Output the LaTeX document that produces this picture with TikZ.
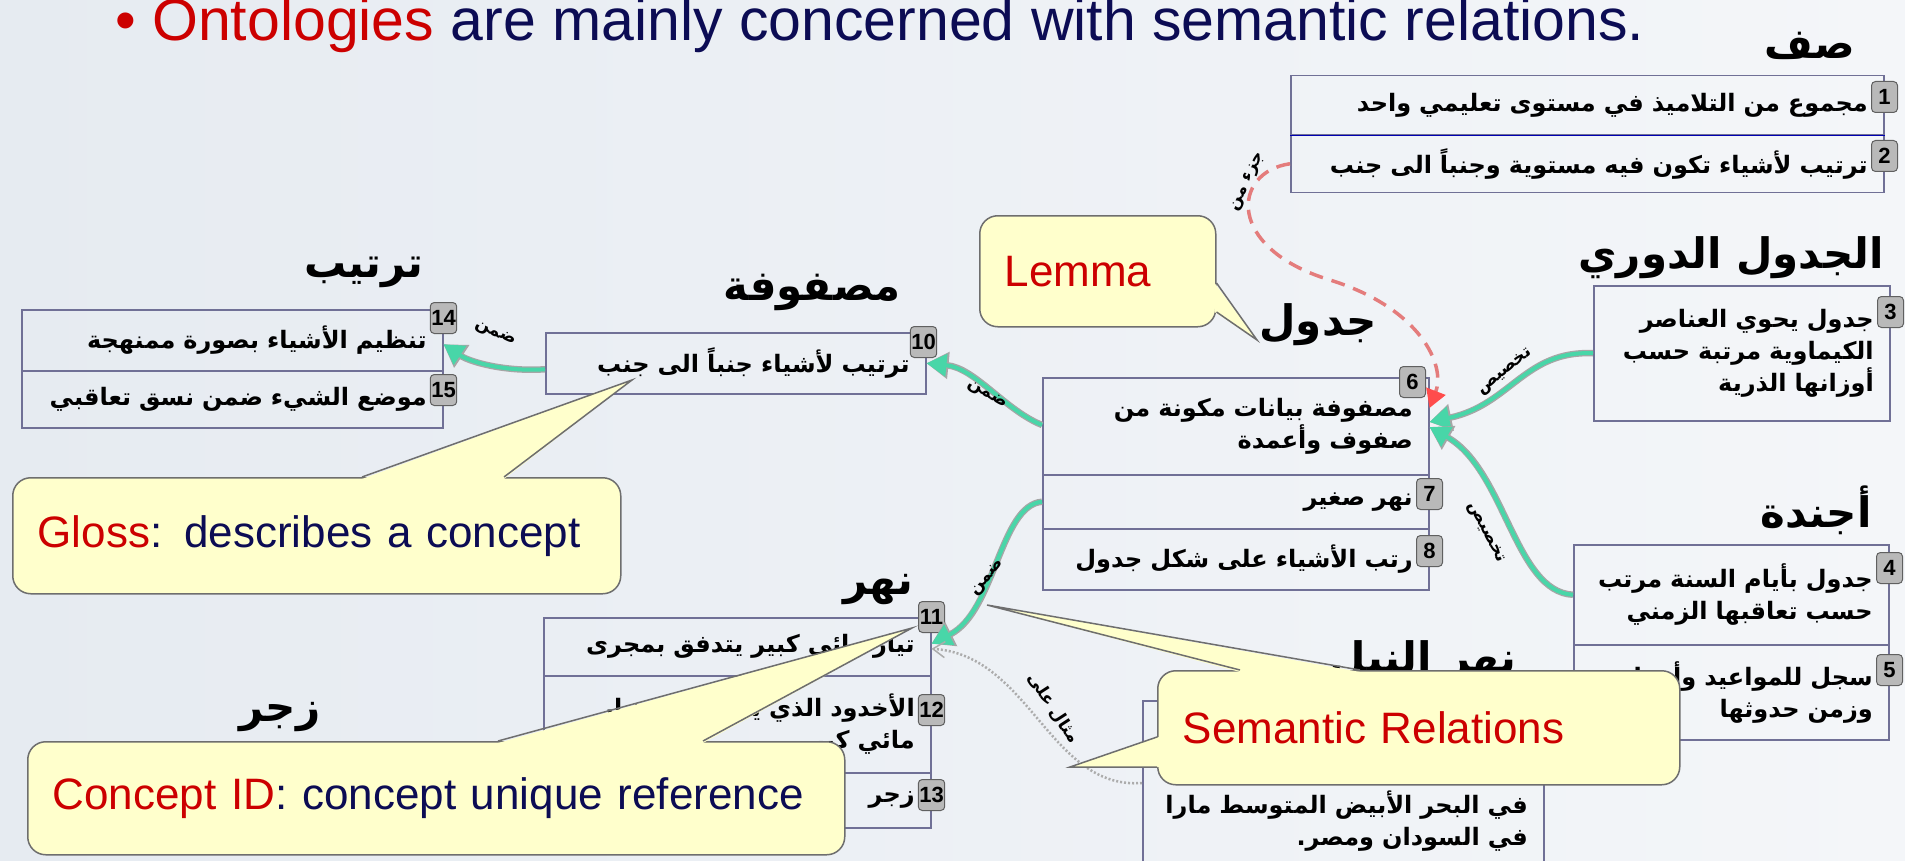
\documentclass[tikz,border=0pt]{standalone}
\usepackage{fontspec}
\setmainfont{Liberation Sans}
\newfontfamily\arabicfont[Script=Arabic]{DejaVu Sans}
\TeXXeTstate=1
\usetikzlibrary{arrows.meta, positioning, calc}
\definecolor{red1}{RGB}{204,0,0}
\definecolor{navy1}{RGB}{12,12,84}
\definecolor{note1}{RGB}{255,255,204}
\definecolor{noteline}{RGB}{110,110,110}
\definecolor{boxline}{RGB}{112,112,150}
\definecolor{teal1}{RGB}{72,214,168}
\definecolor{salmon1}{RGB}{228,124,124}
\definecolor{bgleft}{RGB}{230,235,241}
\definecolor{bgright}{RGB}{244,246,249}
\newcommand{\artext}[1]{{\arabicfont\beginR #1\endR}}

\begin{document}
\begin{tikzpicture}[x=1pt, y=-1pt,
  rowbox/.style={draw=boxline, line width=1.5pt, anchor=north west, inner xsep=16pt, inner ysep=2pt, align=right, font=\fontsize{24}{32}\selectfont\bfseries},
  badge/.style={fill=gray!55, draw=gray!75!black, line width=1pt, rounded corners=4pt, minimum width=26pt, minimum height=31pt, inner sep=1pt, font=\fontsize{22}{22}\selectfont\bfseries},
  headword/.style={font=\fontsize{42}{46}\selectfont\bfseries, inner sep=0pt},
  relarrow/.style={draw=teal1, line width=4pt, -{Triangle[length=20pt,width=22pt]}, preaction={draw=gray!70, line width=6.5pt, -{Triangle[length=22pt,width=26pt]}}},
  partarrow/.style={draw=salmon1, line width=3.5pt, dash pattern=on 14pt off 9pt, -{Triangle[length=18pt,width=20pt,color=red!70!white]}},
  instarrow/.style={draw=gray!65, line width=2.5pt, dash pattern=on 2pt off 2pt, -{Straight Barb[length=12pt,width=16pt,line width=1.5pt]}},
  rellabel/.style={font=\fontsize{17}{17}\selectfont\bfseries, inner sep=1pt},
  note/.style={draw=noteline, fill=note1, line width=1.5pt, rounded corners=18pt, anchor=north west, inner xsep=25pt, align=left, font=\fontsize{44}{50}\selectfont}
]
\useasboundingbox (0,0) rectangle (1905,861);
\clip (0,0) rectangle (1905,861);
\shade[left color=bgleft, right color=bgright] (0,0) rectangle (1905,861);

% title line
\node[anchor=base west, inner sep=0pt, font=\fontsize{59}{60}\selectfont] (title) at (115,41)
  {\textcolor{red1}{• Ontologies} \textcolor{navy1}{are mainly concerned with semantic relations.}};

% senses of each lemma
\node[rowbox, minimum width=593pt, text width=561pt, minimum height=59pt] (saf1) at (1290,75) {\artext{مجموع من التلاميذ في مستوى تعليمي واحد}};
\node[rowbox, minimum width=593pt, text width=561pt, minimum height=58pt] (saf2) at (1290,134) {\artext{ترتيب لأشياء تكون فيه مستوية وجنباً الى جنب}};
\draw[blue!70!black, line width=1.5pt] (saf1.south west) -- (saf1.south east);

\node[rowbox, minimum width=296pt, text width=264pt, minimum height=135pt] (dawri3) at (1593,285) {\artext{جدول يحوي العناصر}\\\artext{الكيماوية مرتبة حسب}\\\artext{أوزانها الذرية}};

\node[rowbox, minimum width=315pt, text width=283pt, minimum height=100pt] (ajen4) at (1573,544) {\artext{جدول بأيام السنة مرتب}\\\artext{حسب تعاقبها الزمني}};
\node[rowbox, minimum width=315pt, text width=283pt, minimum height=95pt] (ajen5) at (1573,644) {\artext{سجل للمواعيد وأحداث}\\\artext{وزمن حدوثها}};

\node[rowbox, minimum width=386pt, text width=354pt, minimum height=97pt] (jadw6) at (1042,377) {\artext{مصفوفة بيانات مكونة من}\\\artext{صفوف وأعمدة}};
\node[rowbox, minimum width=386pt, text width=354pt, minimum height=54pt] (jadw7) at (1042,474) {\artext{نهر صغير}};
\node[rowbox, minimum width=386pt, text width=354pt, minimum height=61pt] (jadw8) at (1042,528) {\artext{رتب الأشياء على شكل جدول}};

\node[rowbox, minimum width=380pt, text width=348pt, minimum height=61pt] (masf10) at (545,332) {\artext{ترتيب لأشياء جنباً الى جنب}};

\node[rowbox, minimum width=421pt, text width=389pt, minimum height=61pt] (tart14) at (21,309) {\artext{تنظيم الأشياء بصورة ممنهجة}};
\node[rowbox, minimum width=421pt, text width=389pt, minimum height=57pt] (tart15) at (21,370) {\artext{موضع الشيء ضمن نسق تعاقبي}};

\node[rowbox, minimum width=387pt, text width=355pt, minimum height=58pt] (nahr11) at (543,617) {\artext{تيار مائي كبير يتدفق بمجرى}};
\node[rowbox, minimum width=387pt, text width=355pt, minimum height=97pt] (nahr12) at (543,675) {\artext{الأخدود الذي يجري فيه تيار}\\\artext{مائي كبير}};
\node[rowbox, minimum width=387pt, text width=355pt, minimum height=55pt] (nahr13) at (543,772) {\artext{زجر}};

\node[rowbox, minimum width=401pt, text width=369pt, minimum height=240pt] (nil9) at (1142,700) {\artext{في البحر الأبيض المتوسط مارا}\\\artext{في السودان ومصر.}};

% sense numbers
\node[badge] (b1) at ([yshift=-22pt]saf1.north east) {1};
\node[badge] (b2) at ([yshift=-22pt]saf2.north east) {2};
\node[badge] (b3) at ([yshift=-27pt]dawri3.north east) {3};
\node[badge] (b4) at ([yshift=-24pt]ajen4.north east) {4};
\node[badge] (b5) at ([yshift=-26pt]ajen5.north east) {5};
\node[badge] (b6) at ([xshift=-17pt,yshift=-5pt]jadw6.north east) {6};
\node[badge] (b7) at ([yshift=-20pt]jadw7.north east) {7};
\node[badge] (b8) at ([yshift=-23pt]jadw8.north east) {8};
\node[badge] (b10) at ([xshift=-3pt,yshift=-10pt]masf10.north east) {10};
\node[badge] (b11) at (nahr11.north east) {11};
\node[badge] (b12) at ([yshift=-35pt]nahr12.north east) {12};
\node[badge] (b13) at ([yshift=-23pt]nahr13.north east) {13};
\node[badge] (b14) at ([yshift=-9pt]tart14.north east) {14};
\node[badge] (b15) at ([yshift=-20pt]tart15.north east) {15};

% lemmas
\node[headword] (hsaf) at (1810,46) {\artext{صف}};
\node[headword] (hdawri) at (1731,258) {\artext{الجدول الدوري}};
\node[headword] (hajen) at (1816,510) {\artext{أجندة}};
\node[headword] (hjadw) at (1318,325) {\artext{جدول}};
\node[headword] (hmasf) at (812,292) {\artext{مصفوفة}};
\node[headword] (htart) at (364,272) {\artext{ترتيب}};
\node[headword] (hnahr) at (878,590) {\artext{نهر}};
\node[headword] (hzajr) at (280,717) {\artext{زجر}};
\node[headword] (hnil) at (1423,662) {\artext{نهر النيل}};

% relations
\draw[partarrow] (saf2.west) .. controls (1232,172) and (1225,248) .. (1330,280) .. controls (1420,308) and (1446,365) .. ([yshift=-31pt]jadw6.north east);
\draw[relarrow] (dawri3.west) .. controls (1525,350) and (1510,405) .. ([yshift=-45pt]jadw6.north east);
\draw[relarrow] (ajen4.west) .. controls (1515,592) and (1505,470) .. ([yshift=-50pt]jadw6.north east);
\draw[relarrow] ([yshift=-48pt]jadw6.north west) .. controls (1005,410) and (975,368) .. (masf10.east);
\draw[relarrow] ([yshift=-6pt]masf10.west) .. controls (505,372) and (470,362) .. ([yshift=-4pt]tart14.east);
\draw[relarrow] (jadw7.west) .. controls (1000,505) and (995,612) .. ([yshift=3pt]nahr11.east);
\draw[instarrow] ([yshift=-83pt]nil9.north west) .. controls (1050,790) and (1030,655) .. ([yshift=-2pt]nahr11.east);

\node[rellabel, rotate=65] (lpart) at (1248,182) {\artext{جزء من}};
\node[rellabel, rotate=39] (ldawri) at (1505,372) {\artext{تخصيص}};
\node[rellabel, rotate=-63] (lajen) at (1486,533) {\artext{تخصيص}};
\node[rellabel, rotate=-30] (lmasf) at (987,395) {\artext{ضمن}};
\node[rellabel, rotate=-25] (ltart) at (495,334) {\artext{ضمن}};
\node[rellabel, rotate=48] (lnahr) at (988,578) {\artext{ضمن}};
\node[rellabel, rotate=-57] (lnil) at (1053,708) {\artext{مثال على}};

% callouts
\node[note, minimum width=236pt, text width=186pt, minimum height=111pt] (lemma) at (979,215) {\textcolor{red1}{Lemma}};
\coordinate (lemmatip) at (1257,340);
\fill[note1] ($(lemma.north east)+(-2,68)$) -- (lemmatip) -- ($(lemma.north east)+(-2,97)$) -- cycle;
\draw[noteline, line width=1.5pt] ($(lemma.north east)+(0,68)$) -- (lemmatip) -- ($(lemma.north east)+(0,97)$);

\node[note, minimum width=608pt, text width=558pt, minimum height=116pt] (gloss) at (12,477) {\textcolor{red1}{Gloss}\textcolor{navy1}{: describes a concept}};
\coordinate (glosstip) at (632,380);
\fill[note1] ($(gloss.north west)+(350,2)$) -- (glosstip) -- ($(gloss.north west)+(492,2)$) -- cycle;
\draw[noteline, line width=1.5pt] ($(gloss.north west)+(350,0)$) -- (glosstip) -- ($(gloss.north west)+(492,0)$);

\node[note, minimum width=817pt, text width=767pt, minimum height=113pt] (cid) at (27,741) {\textcolor{red1}{Concept ID}\textcolor{navy1}{: concept unique reference}};
\coordinate (cidtip) at (912,628);
\fill[note1] ($(cid.north west)+(471,2)$) -- (cidtip) -- ($(cid.north west)+(676,2)$) -- cycle;
\draw[noteline, line width=1.5pt] ($(cid.north west)+(471,0)$) -- (cidtip) -- ($(cid.north west)+(676,0)$);

\node[note, minimum width=522pt, text width=472pt, minimum height=114pt] (semrel) at (1157,670) {\textcolor{red1}{Semantic Relations}};
\coordinate (semtipa) at (987,605);
\coordinate (semtipb) at (1070,767);
\fill[note1] ($(semrel.north west)+(83,2)$) -- (semtipa) -- ($(semrel.north west)+(203,2)$) -- cycle;
\draw[noteline, line width=1.5pt] ($(semrel.north west)+(83,0)$) -- (semtipa) -- ($(semrel.north west)+(203,0)$);
\fill[note1] ($(semrel.north west)+(2,67)$) -- (semtipb) -- ($(semrel.north west)+(2,97)$) -- cycle;
\draw[noteline, line width=1.5pt] ($(semrel.north west)+(0,67)$) -- (semtipb) -- ($(semrel.north west)+(0,97)$);
\end{tikzpicture}
\end{document}
